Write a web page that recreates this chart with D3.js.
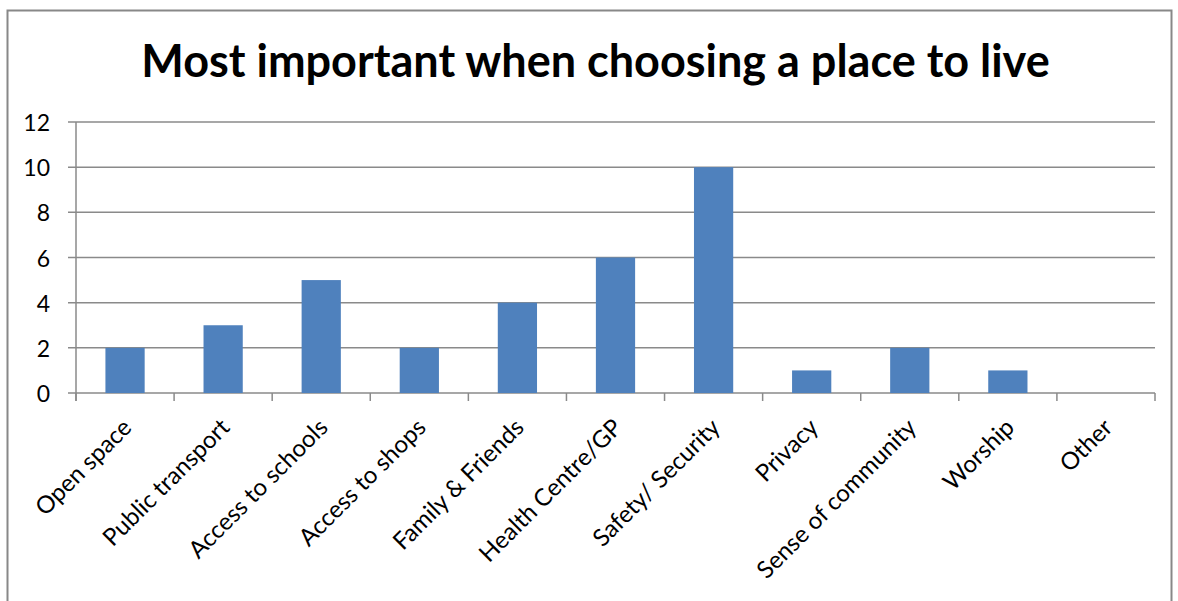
<!DOCTYPE html>
<html><head><meta charset="utf-8">
<script src="https://cdn.jsdelivr.net/npm/d3@7"></script>
<style>body{margin:0;background:#fff}svg{display:block}text{font-family:Lato,"Open Sans",sans-serif;fill:#000}</style>
</head><body>
<script>
const categories = ["Open space","Public transport","Access to schools","Access to shops","Family & Friends","Health Centre/GP","Safety/ Security","Privacy","Sense of community","Worship","Other"];
const values = [2,3,5,2,4,6,10,1,2,1,0];
const yTicks = [0,2,4,6,8,10,12];
const title = "Most important when choosing a place to live";

(function(){
const W = 1178, H = 601;
const svg = d3.select("body").append("svg").attr("width", W).attr("height", H);
svg.append("rect").attr("x",7.5).attr("y",10.5).attr("width",1164).attr("height",600)
  .attr("fill","#fff").attr("stroke","#888").attr("stroke-width",2);

const mL = 76, mR = 1155, mT = 122, mB = 393;
const x = d3.scaleBand().domain(categories).range([mL, mR]).paddingInner(0.6).paddingOuter(0.3);
const xb = d3.scaleBand().domain(categories).range([mL, mR]);
const y = d3.scaleLinear().domain([0,12]).range([mB, mT]);

svg.append("g").selectAll("line").data(yTicks).join("line")
  .attr("x1", mL-8).attr("x2", mR).attr("y1", d=>y(d)).attr("y2", d=>y(d))
  .attr("stroke","#8a8a8a").attr("stroke-width",1.5);

svg.append("g").selectAll("rect").data(values).join("rect")
  .attr("x",(d,i)=>x(categories[i])).attr("width",x.bandwidth())
  .attr("y",d=>y(d)).attr("height",d=>y(0)-y(d)).attr("fill","#4F81BD");

svg.append("line").attr("x1",mL).attr("x2",mL).attr("y1",mT).attr("y2",mB+8)
  .attr("stroke","#8a8a8a").attr("stroke-width",1.5);
const bounds = categories.map(c=>xb(c)).concat([mR]);
svg.append("g").selectAll("line").data(bounds).join("line")
  .attr("x1",d=>d).attr("x2",d=>d).attr("y1",mB).attr("y2",mB+8)
  .attr("stroke","#8a8a8a").attr("stroke-width",1.5);

svg.append("g").selectAll("text").data(yTicks).join("text")
  .attr("x",50).attr("y",d=>y(d)).attr("text-anchor","end").attr("dominant-baseline","central")
  .attr("font-size",23).text(d=>d);

svg.append("g").selectAll("text").data(categories).join("text")
  .attr("transform",c=>`translate(${xb(c)+xb.bandwidth()/2+8},${mB+36}) rotate(-45)`)
  .attr("text-anchor","end").attr("font-size",24).text(c=>c);

svg.append("text").attr("x",595.5).attr("y",77).attr("text-anchor","middle")
  .attr("font-size",45).attr("font-weight","bold").text(title);
})();
</script>
</body></html>
